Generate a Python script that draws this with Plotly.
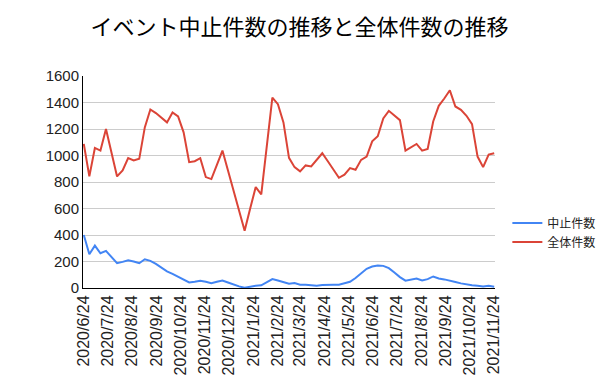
import pandas as pd
import plotly.graph_objects as go

start_date = "2020-06-24"
n_weeks = 75
dates = pd.date_range(start_date, periods=n_weeks, freq="7D")

cancelled = [400, 255, 320, 262, 280, 235, 187, 197, 210, 200,
             187, 217, 205, 182, 155, 125, 107, 87, 67, 42,
             47, 55, 47, 37, 47, 57, 42, 25, 12, 2,
             12, 17, 20, 42, 67, 57, 47, 32, 37, 25,
             25, 20, 17, 22, 25, 25, 25, 37, 47, 75,
             112, 145, 162, 170, 167, 150, 117, 82, 55, 62,
             72, 57, 67, 87, 72, 65, 57, 45, 35, 27,
             20, 17, 12, 17, 10]

total = [1087, 842, 1057, 1037, 1200, 1020, 842, 887, 980, 962,
         975, 1212, 1347, 1320, 1287, 1250, 1325, 1295, 1175, 950,
         957, 980, 837, 822, 930, 1037, 886, 735, 583, 432,
         600, 762, 707, 1070, 1437, 1387, 1250, 982, 912, 880,
         925, 917, 967, 1017, 957, 895, 832, 855, 905, 892,
         967, 992, 1107, 1145, 1280, 1337, 1305, 1267, 1037, 1062,
         1087, 1037, 1050, 1257, 1375, 1430, 1492, 1370, 1345, 1300,
         1237, 992, 912, 1007, 1017]

tick_dates = ["2020-06-24", "2020-07-24", "2020-08-24", "2020-09-24", "2020-10-24",
              "2020-11-24", "2020-12-24", "2021-01-24", "2021-02-24", "2021-03-24",
              "2021-04-24", "2021-05-24", "2021-06-24", "2021-07-24", "2021-08-24",
              "2021-09-24", "2021-10-24", "2021-11-24"]
tick_labels = ["2020/6/24", "2020/7/24", "2020/8/24", "2020/9/24", "2020/10/24",
               "2020/11/24", "2020/12/24", "2021/1/24", "2021/2/24", "2021/3/24",
               "2021/4/24", "2021/5/24", "2021/6/24", "2021/7/24", "2021/8/24",
               "2021/9/24", "2021/10/24", "2021/11/24"]

y_ticks = [0, 200, 400, 600, 800, 1000, 1200, 1400, 1600]

title_text = "イベント中止件数の推移と全体件数の推移"
series_names = ["中止件数", "全体件数"]

jp_font = "Noto Sans CJK JP, Noto Sans, sans-serif"
num_font = "Liberation Sans, Arial, sans-serif"

fig = go.Figure()
fig.add_trace(go.Scatter(x=dates, y=cancelled, mode="lines", name=series_names[0],
                         line=dict(color="#4285F4", width=2)))
fig.add_trace(go.Scatter(x=dates, y=total, mode="lines", name=series_names[1],
                         line=dict(color="#DB4437", width=2)))

fig.update_layout(
    width=615, height=386,
    margin=dict(l=83, r=120, t=76, b=98, autoexpand=False),
    paper_bgcolor="white", plot_bgcolor="white",
    title=dict(text=title_text, x=0.487, xanchor="center", y=0.93, yanchor="middle",
               font=dict(family=jp_font, size=22, color="#000000")),
    showlegend=True,
    legend=dict(x=1.03, xanchor="left", y=0.262, yanchor="middle",
                font=dict(family=jp_font, size=12, color="#222222"),
                bgcolor="rgba(0,0,0,0)", itemwidth=30, tracegroupgap=0),
    xaxis=dict(type="date", range=["2020-06-23", "2021-11-25"], automargin=False,
               tickmode="array", tickvals=tick_dates, ticktext=tick_labels,
               tickangle=-90, tickfont=dict(family=num_font, size=16, color="#222222"),
               showgrid=False, showline=True, linecolor="#000000", linewidth=1,
               ticks="", zeroline=False),
    yaxis=dict(range=[0, 1600], tickmode="array", tickvals=y_ticks, automargin=False,
               tickfont=dict(family=num_font, size=15, color="#222222"),
               showgrid=True, gridcolor="#cccccc", gridwidth=1,
               showline=True, linecolor="#000000", linewidth=1,
               ticks="", ticklen=0, zeroline=False),
)

fig.write_html("out.html", config={"displayModeBar": False},
               post_script="document.body.style.margin='0';")
